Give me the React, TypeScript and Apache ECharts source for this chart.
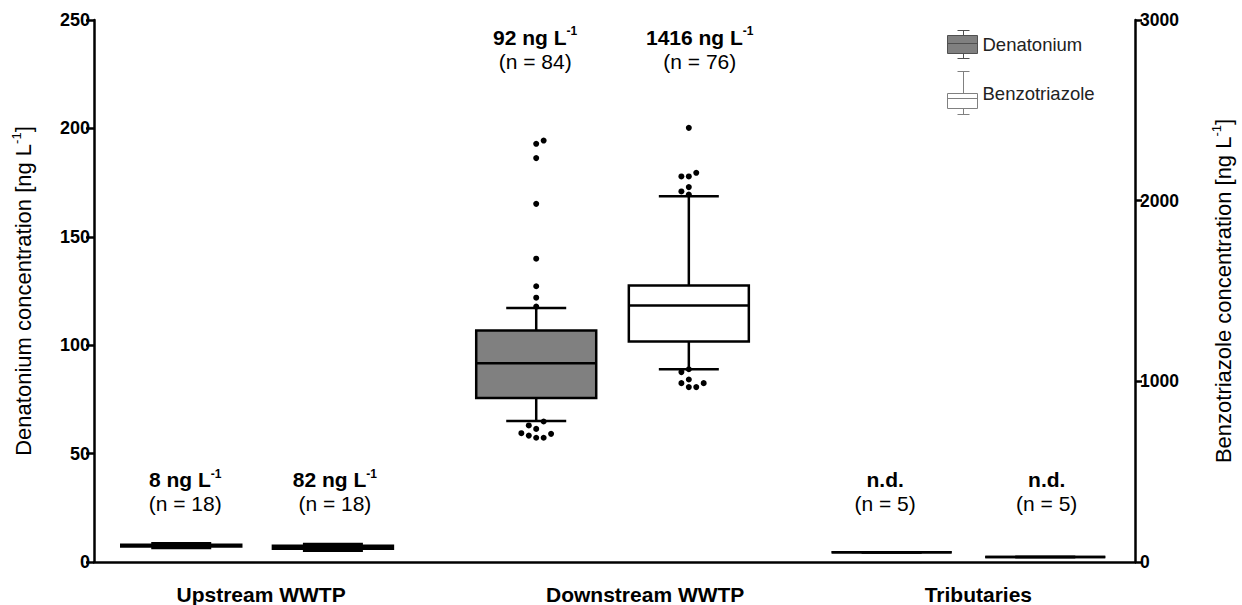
import React, { useEffect, useRef } from "react";
import * as echarts from "echarts";

// ---------- data ----------
const groups = ["Upstream WWTP", "Downstream WWTP", "Tributaries"];
const compounds = ["Denatonium", "Benzotriazole"];

// [min, Q1, median, Q3, max] per group
const denatoniumBoxes = [
  [6.5, 7.2, 7.6, 8.0, 8.6],
  [65, 75.7, 91.7, 106.8, 117.2],
  [4.5, 4.5, 4.5, 4.5, 4.5],
];
const benzotriazoleBoxes = [
  [62, 74, 82, 90, 100],
  [1067, 1220, 1420, 1530, 2025],
  [27, 27, 27, 27, 27],
];

// outliers: [groupIndex, value, jitterStep]
const denatoniumOutliers = [
  [1, 192.9, 0], [1, 194.4, 1], [1, 186.3, 0], [1, 165.2, 0], [1, 139.9, 0],
  [1, 127.2, 0], [1, 121.9, 0], [1, 117.8, 0],
  [1, 64.8, 1], [1, 63.0, -1], [1, 61.4, 0], [1, 59.4, -2], [1, 58.3, -1],
  [1, 57.3, 0], [1, 57.3, 1], [1, 59.1, 2],
];
const benzotriazoleOutliers = [
  [1, 2403, 0], [1, 2134, -1], [1, 2134, 0], [1, 2154, 1], [1, 2051, -1],
  [1, 2075, 0], [1, 2034, 0],
  [1, 1051, -1], [1, 1067, 0], [1, 1010, 0], [1, 990, -1], [1, 968, 0],
  [1, 968, 1], [1, 990, 2],
];

const denatoniumMedianLabels = ["8 ng L", "92 ng L", "n.d."];
const benzotriazoleMedianLabels = ["82 ng L", "1416 ng L", "n.d."];
const denatoniumN = [18, 84, 5];
const benzotriazoleN = [18, 76, 5];

const leftTicks = { min: 0, max: 250, interval: 50 };
const rightTicks = { min: 0, max: 3000, interval: 1000 };

// ---------- layout ----------
const FONT = "'Liberation Sans', Arial, Helvetica, sans-serif";
const BOX_X = [
  [8.38, 22.95],
  [42.48, 57.14],
  [76.62, 91.38],
];
const ANNOT_X = [
  [8.76, 23.14],
  [42.38, 58.19],
  [76.0, 91.52],
];
const ANNOT_Y = [32.3, 236.4, 32.3]; // in left-axis units
const GROUP_LABEL_X = [16.05, 52.95, 84.95];
const JITTER = 0.714;
const BOX_W = 120;
const LW = 2.5;

const DEN_ICON =
  "path://M10 0L22 0M16 0L16 5M0 5L30 5L30 23L0 23ZM0 13L30 13M16 23L16 28M10 28L22 28";
const BEN_ICON =
  "path://M10 0L22 0M16 0L16 22M0 22L30 22L30 37L0 37ZM0 27L30 27M16 37L16 43M10 43L22 43";

function boxRender(fill: string) {
  return (params: any, api: any) => {
    const x = api.value(0);
    const pMin = api.coord([x, api.value(1)]);
    const pQ1 = api.coord([x, api.value(2)]);
    const pMed = api.coord([x, api.value(3)]);
    const pQ3 = api.coord([x, api.value(4)]);
    const pMax = api.coord([x, api.value(5)]);
    const cx = pMin[0];
    const half = BOX_W / 2;
    const cap = BOX_W / 4;
    const ls = { stroke: "#000", lineWidth: LW };
    return {
      type: "group",
      children: [
        { type: "line", shape: { x1: cx, y1: pMax[1], x2: cx, y2: pQ3[1] }, style: ls },
        { type: "line", shape: { x1: cx, y1: pQ1[1], x2: cx, y2: pMin[1] }, style: ls },
        { type: "line", shape: { x1: cx - cap, y1: pMax[1], x2: cx + cap, y2: pMax[1] }, style: ls },
        { type: "line", shape: { x1: cx - cap, y1: pMin[1], x2: cx + cap, y2: pMin[1] }, style: ls },
        {
          type: "rect",
          shape: { x: cx - half, y: pQ3[1], width: BOX_W, height: pQ1[1] - pQ3[1] },
          style: { fill, stroke: "#000", lineWidth: LW },
        },
        { type: "line", shape: { x1: cx - half, y1: pMed[1], x2: cx + half, y2: pMed[1] }, style: ls },
      ],
    };
  };
}

function annotText(median: string, n: number) {
  const first = median.indexOf("ng L") >= 0 ? `{b|${median}}{sup|-1}` : `{b|${median}}`;
  return `${first}\n{n|(n = ${n})}`;
}

export default function App() {
  const ref = useRef<HTMLDivElement>(null);
  useEffect(() => {
    document.body.style.margin = "0";
    if (!ref.current) return;
    const chart = echarts.init(ref.current, undefined, { renderer: "svg" });

    const denData = denatoniumBoxes.map((b, i) => [BOX_X[i][0], ...b]);
    const benData = benzotriazoleBoxes.map((b, i) => [BOX_X[i][1], ...b]);
    const denOut = denatoniumOutliers.map((o) => [BOX_X[o[0]][0] + o[2] * JITTER, o[1]]);
    const benOut = benzotriazoleOutliers.map((o) => [BOX_X[o[0]][1] + o[2] * JITTER, o[1]]);

    const annotData: any[] = [];
    const annotTexts: string[] = [];
    groups.forEach((g, i) => {
      annotData.push([ANNOT_X[i][0], ANNOT_Y[i]]);
      annotTexts.push(annotText(denatoniumMedianLabels[i], denatoniumN[i]));
      annotData.push([ANNOT_X[i][1], ANNOT_Y[i]]);
      annotTexts.push(annotText(benzotriazoleMedianLabels[i], benzotriazoleN[i]));
    });

    const axisLine = { show: true, onZero: false, lineStyle: { color: "#000", width: LW } };

    chart.setOption({
      animation: false,
      textStyle: { fontFamily: FONT },
      grid: { left: 94, right: 98, top: 20, bottom: 43 },
      legend: [
        {
          data: [
            {
              name: compounds[0],
              icon: DEN_ICON,
              itemStyle: { color: "#808080", borderColor: "#505050", borderWidth: 1 },
            },
          ],
          left: 947,
          top: 30,
          padding: 0,
          itemWidth: 30,
          itemHeight: 28,
          selectedMode: false,
          textStyle: { fontSize: 18.5, color: "#222", fontFamily: FONT },
        },
        {
          data: [
            {
              name: compounds[1],
              icon: BEN_ICON,
              itemStyle: { color: "#fff", borderColor: "#808080", borderWidth: 1 },
            },
          ],
          left: 947,
          top: 71,
          padding: 0,
          itemWidth: 30,
          itemHeight: 43,
          selectedMode: false,
          textStyle: { fontSize: 18.5, color: "#222", fontFamily: FONT, padding: [15, 0, 0, 0] },
        },
      ],
      xAxis: {
        type: "value",
        min: 0,
        max: 100,
        axisLine,
        axisTick: { show: false },
        splitLine: { show: false },
        axisLabel: {
          customValues: GROUP_LABEL_X,
          formatter: (v: number) => {
            const i = GROUP_LABEL_X.findIndex((p) => Math.abs(p - v) < 0.01);
            return i >= 0 ? groups[i] : "";
          },
          fontWeight: "bold",
          fontSize: 21,
          color: "#000",
          margin: 22,
          fontFamily: FONT,
        },
      },
      yAxis: [
        {
          type: "value",
          position: "left",
          ...leftTicks,
          axisLine,
          axisTick: { show: true, length: 8, lineStyle: { color: "#000", width: LW } },
          splitLine: { show: false },
          axisLabel: {
            fontWeight: "bold",
            fontSize: 18,
            color: "#000",
            margin: 4,
            fontFamily: FONT,
            formatter: (v: number) => String(v),
          },
          name: "{t|Denatonium concentration [ng L}{s|-1}{t|]}",
          nameLocation: "middle",
          nameGap: 58,
          nameTextStyle: {
            rich: {
              t: { fontSize: 22, color: "#000", fontFamily: FONT, lineHeight: 26 },
              s: { fontSize: 13, color: "#000", fontFamily: FONT, lineHeight: 18, verticalAlign: "top" },
            },
          },
        },
        {
          type: "value",
          position: "right",
          ...rightTicks,
          axisLine,
          axisTick: { show: true, length: 7, lineStyle: { color: "#000", width: LW } },
          splitLine: { show: false },
          axisLabel: {
            fontWeight: "bold",
            fontSize: 17.5,
            color: "#000",
            margin: 5,
            fontFamily: FONT,
            formatter: (v: number) => String(v),
          },
          name: "{t|Benzotriazole concentration [ng L}{s|-1}{t|]}",
          nameLocation: "middle",
          nameGap: 75,
          nameTextStyle: {
            rich: {
              t: { fontSize: 22, color: "#000", fontFamily: FONT, lineHeight: 26 },
              s: { fontSize: 13, color: "#000", fontFamily: FONT, lineHeight: 18, verticalAlign: "top" },
            },
          },
        },
      ],
      series: [
        {
          name: compounds[0],
          type: "custom",
          yAxisIndex: 0,
          renderItem: boxRender("#808080"),
          data: denData,
          itemStyle: { color: "#808080" },
          encode: { x: 0, y: [1, 2, 3, 4, 5] },
          z: 3,
        },
        {
          name: compounds[1],
          type: "custom",
          yAxisIndex: 1,
          renderItem: boxRender("#ffffff"),
          data: benData,
          itemStyle: { color: "#ffffff" },
          encode: { x: 0, y: [1, 2, 3, 4, 5] },
          z: 3,
        },
        {
          name: "Denatonium outliers",
          type: "scatter",
          yAxisIndex: 0,
          symbolSize: 6,
          itemStyle: { color: "#000", opacity: 1 },
          data: denOut,
          z: 4,
        },
        {
          name: "Benzotriazole outliers",
          type: "scatter",
          yAxisIndex: 1,
          symbolSize: 6,
          itemStyle: { color: "#000", opacity: 1 },
          data: benOut,
          z: 4,
        },
        {
          name: "annotations",
          type: "scatter",
          yAxisIndex: 0,
          symbolSize: 0,
          silent: true,
          data: annotData,
          itemStyle: { color: "#000", opacity: 1 },
          label: {
            show: true,
            position: "inside",
            align: "center",
            verticalAlign: "middle",
            color: "#000",
            textBorderWidth: 0,
            formatter: (p: any) => annotTexts[p.dataIndex],
            rich: {
              b: { fontSize: 21, fontWeight: "bold", color: "#000", lineHeight: 24, fontFamily: FONT },
              sup: {
                fontSize: 12,
                fontWeight: "bold",
                color: "#000",
                lineHeight: 18,
                verticalAlign: "top",
                fontFamily: FONT,
              },
              n: { fontSize: 21, color: "#000", lineHeight: 24, fontFamily: FONT },
            },
          },
          z: 5,
        },
      ],
    });
    return () => chart.dispose();
  }, []);
  return <div ref={ref} style={{ width: 1242, height: 605 }} />;
}
